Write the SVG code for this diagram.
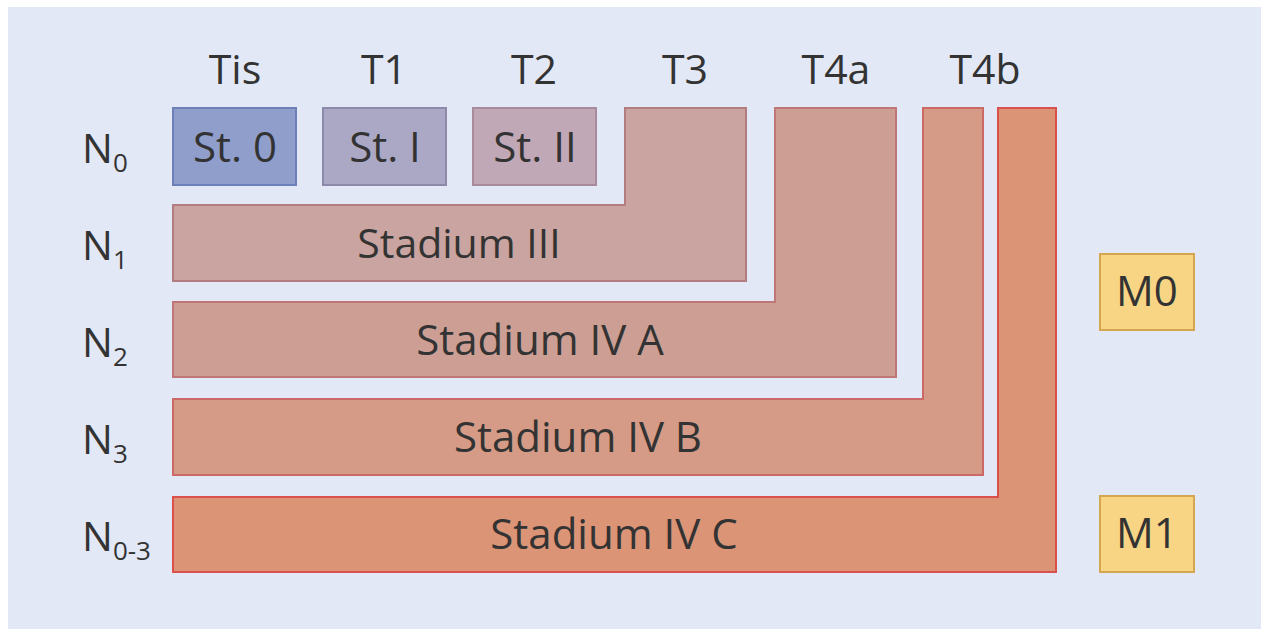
<svg xmlns="http://www.w3.org/2000/svg" width="1261" height="629" viewBox="0 0 1261 629">
<style>
text{font-family:"Open Sans","Noto Sans","Liberation Sans",sans-serif;fill:#333;}
.h{font-size:41px;text-anchor:middle;}
.n{font-size:41px;}
.sub{font-size:26px;}
.lbl{font-size:42px;text-anchor:middle;}
.lbl3{font-size:41px;text-anchor:middle;}
.box{stroke-width:2;stroke-linejoin:miter;}
</style>
<rect x="0" y="0" width="1261" height="629" fill="#ffffff"/>
<rect x="8" y="7" width="1253" height="622" fill="#e2e8f5"/>
<g id="headers">
<text class="h" x="235" y="84">Tis</text>
<text class="h" x="384" y="84">T1</text>
<text class="h" x="534" y="84">T2</text>
<text class="h" x="685" y="84">T3</text>
<text class="h" x="836" y="84">T4a</text>
<text class="h" x="985" y="84">T4b</text>
</g>
<g id="rows">
<text class="n" x="82" y="163">N<tspan class="sub" dy="9">0</tspan></text>
<text class="n" x="82" y="260">N<tspan class="sub" dy="9">1</tspan></text>
<text class="n" x="82" y="357">N<tspan class="sub" dy="9">2</tspan></text>
<text class="n" x="82" y="454">N<tspan class="sub" dy="9">3</tspan></text>
<text class="n" x="82" y="551">N<tspan class="sub" dy="9">0-3</tspan></text>
</g>
<g id="st0">
<rect class="box" x="173" y="108" width="123" height="77" fill="#8f9ecb" stroke="#6c80b7"/>
<text class="lbl" x="235" y="162">St. 0</text>
</g>
<g id="st1">
<rect class="box" x="323" y="108" width="123" height="77" fill="#aba8c5" stroke="#8c89ab"/>
<text class="lbl" x="385" y="162">St. I</text>
</g>
<g id="st2">
<rect class="box" x="473" y="108" width="123" height="77" fill="#c1a8b6" stroke="#a78a9b"/>
<text class="lbl" x="535" y="162">St. II</text>
</g>
<g id="st3">
<path class="box" d="M173,205 H625 V108 H746 V281 H173 Z" fill="#c9a4a0" stroke="#b27c80"/>
<text class="lbl3" x="459" y="258">Stadium III</text>
</g>
<g id="st4a">
<path class="box" d="M173,302 H775 V108 H896 V377 H173 Z" fill="#cd9f94" stroke="#c07577"/>
<text class="lbl" x="540" y="355">Stadium IV A</text>
</g>
<g id="st4b">
<path class="box" d="M173,399 H923 V108 H983 V475 H173 Z" fill="#d59b86" stroke="#cc6865"/>
<text class="lbl" x="578" y="452">Stadium IV B</text>
</g>
<g id="st4c">
<path class="box" d="M173,497 H998 V108 H1056 V572 H173 Z" fill="#dc9476" stroke="#d9504d"/>
<text class="lbl" x="614" y="549">Stadium IV C</text>
</g>
<g id="m0">
<rect class="box" x="1100" y="254" width="94" height="76" fill="#f7d585" stroke="#d5a650"/>
<text class="lbl" x="1147" y="306">M0</text>
</g>
<g id="m1">
<rect class="box" x="1100" y="496" width="94" height="76" fill="#f7d585" stroke="#d5a650"/>
<text class="lbl" x="1147" y="548">M1</text>
</g>
<g id="connectors"></g>
</svg>
